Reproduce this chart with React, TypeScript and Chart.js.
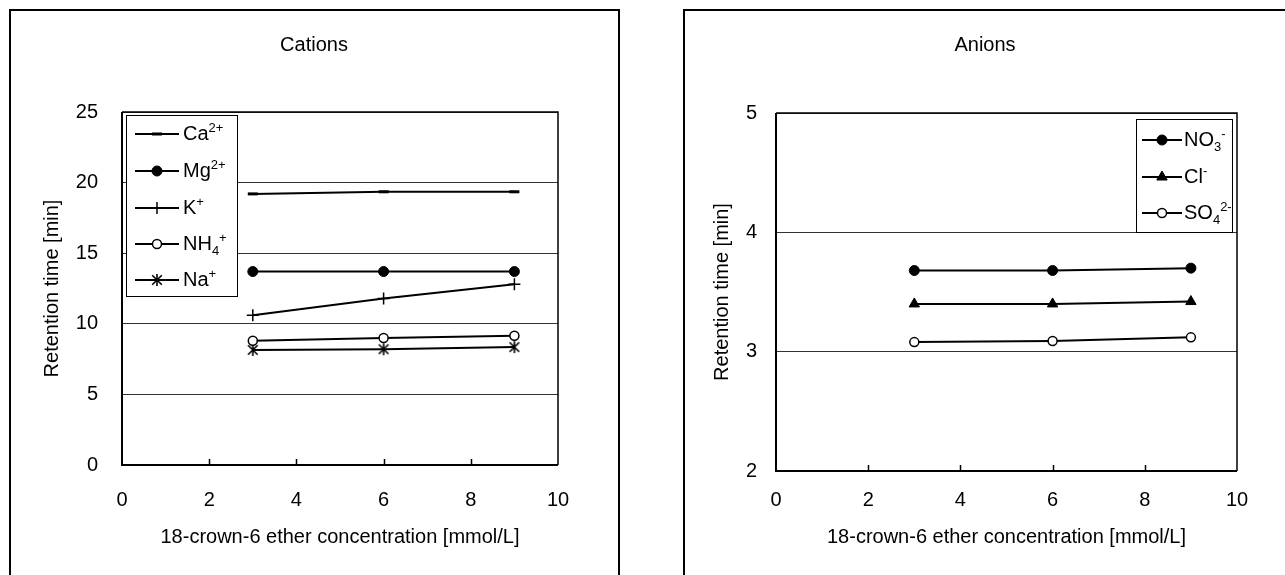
import React, { useEffect, useRef } from 'react';
import { Chart, registerables } from 'chart.js';
import { drawPoint } from 'chart.js/helpers';

Chart.register(...registerables);

const FAMILY = '"Liberation Sans", Arial, Helvetica, sans-serif';

// ---------- data ----------
const concentrations = [3, 6, 9];
const xTicks = [0, 2, 4, 6, 8, 10];

const caValues = [19.2, 19.35, 19.35];
const mgValues = [13.7, 13.7, 13.7];
const kValues = [10.6, 11.8, 12.8];
const nh4Values = [8.8, 9.0, 9.15];
const naValues = [8.15, 8.2, 8.35];

const no3Values = [3.68, 3.68, 3.7];
const clValues = [3.4, 3.4, 3.42];
const so4Values = [3.08, 3.09, 3.12];

// label runs: [text, kind] kind = '' | 'sup' | 'sub'
const cationLabels: [string, string][][] = [
  [['Ca', ''], ['2+', 'sup']],
  [['Mg', ''], ['2+', 'sup']],
  [['K', ''], ['+', 'sup']],
  [['NH', ''], ['4', 'sub'], ['+', 'sup']],
  [['Na', ''], ['+', 'sup']],
];
const anionLabels: [string, string][][] = [
  [['NO', ''], ['3', 'sub'], ['-', 'sup']],
  [['Cl', ''], ['-', 'sup']],
  [['SO', ''], ['4', 'sub'], ['2-', 'sup']],
];

const cationTitle = 'Cations';
const anionTitle = 'Anions';
const xTitle = '18-crown-6 ether concentration [mmol/L]';
const yTitle = 'Retention time [min]';

// ---------- helpers ----------
function makeAsterisk(): HTMLCanvasElement {
  const size = 14;
  const c = document.createElement('canvas');
  c.width = size;
  c.height = size;
  const g = c.getContext('2d')!;
  g.strokeStyle = '#000';
  g.lineWidth = 1.6;
  const m = size / 2;
  const r = 6;
  g.beginPath();
  g.moveTo(m, m - r);
  g.lineTo(m, m + r);
  g.moveTo(m - r * 0.8, m - r * 0.8);
  g.lineTo(m + r * 0.8, m + r * 0.8);
  g.moveTo(m + r * 0.8, m - r * 0.8);
  g.lineTo(m - r * 0.8, m + r * 0.8);
  g.stroke();
  return c;
}

function drawRuns(ctx: CanvasRenderingContext2D, runs: [string, string][], x: number, y: number) {
  let cx = x;
  ctx.textAlign = 'left';
  ctx.textBaseline = 'middle';
  for (const [t, kind] of runs) {
    const size = kind ? 13 : 20;
    ctx.font = `${size}px ${FAMILY}`;
    const dy = kind === 'sup' ? -6 : kind === 'sub' ? 7 : 0;
    ctx.fillText(t, cx, y + dy);
    cx += ctx.measureText(t).width;
  }
}

const decorPlugin = {
  id: 'decor',
  beforeDatasetsDraw(chart: any) {
    const { ctx, chartArea } = chart;
    const { left, right, top, bottom } = chartArea;
    ctx.save();
    ctx.strokeStyle = '#000';
    // inward ticks on x axis
    ctx.lineWidth = 1.5;
    const xs = chart.scales.x;
    ctx.beginPath();
    for (const t of xs.ticks) {
      if (t.value <= xs.min || t.value >= xs.max) continue;
      const px = Math.round(xs.getPixelForValue(t.value)) + 0.5;
      ctx.moveTo(px, bottom);
      ctx.lineTo(px, bottom - 6);
    }
    ctx.stroke();
    // plot border
    ctx.lineWidth = 1.5;
    ctx.beginPath();
    ctx.moveTo(left, top);
    ctx.lineTo(right, top);
    ctx.lineTo(right, bottom);
    ctx.stroke();
    ctx.lineWidth = 2;
    ctx.beginPath();
    ctx.moveTo(left, top);
    ctx.lineTo(left, bottom);
    ctx.lineTo(right, bottom);
    ctx.stroke();
    ctx.restore();
  },
  afterDraw(chart: any, _args: any, opts: any) {
    const { ctx } = chart;
    ctx.save();
    // title
    ctx.fillStyle = '#000';
    ctx.font = `20px ${FAMILY}`;
    ctx.textAlign = 'center';
    ctx.textBaseline = 'middle';
    ctx.fillText(opts.title, chart.width / 2, opts.titleY);
    // legend
    const L = opts.legend;
    ctx.fillStyle = '#fff';
    ctx.fillRect(L.x, L.y, L.w, L.h);
    ctx.strokeStyle = '#000';
    ctx.lineWidth = 1;
    ctx.strokeRect(L.x + 0.5, L.y + 0.5, L.w, L.h);
    chart.data.datasets.forEach((ds: any, i: number) => {
      const y = L.itemY[i];
      ctx.strokeStyle = '#000';
      ctx.lineWidth = 2;
      ctx.beginPath();
      ctx.moveTo(L.lineX1, y);
      ctx.lineTo(L.lineX2, y);
      ctx.stroke();
      ctx.fillStyle = ds.pointBackgroundColor;
      ctx.strokeStyle = ds.pointBorderColor;
      ctx.lineWidth = ds.pointBorderWidth;
      drawPoint(ctx, { pointStyle: ds.pointStyle, radius: ds.pointRadius, rotation: 0, borderWidth: ds.pointBorderWidth } as any, L.markerX, y);
      ctx.fillStyle = '#000';
      drawRuns(ctx, opts.labels[i], L.textX, y);
    });
    ctx.restore();
  },
};

function series(values: number[], style: any) {
  return {
    data: concentrations.map((x, i) => ({ x, y: values[i] })),
    borderColor: '#000',
    borderWidth: 2,
    pointBorderColor: '#000',
    tension: 0,
    fill: false,
    ...style,
  };
}

function buildConfig(p: any): any {
  return {
    type: 'line',
    data: { datasets: p.datasets },
    plugins: [decorPlugin],
    options: {
      animation: false,
      responsive: false,
      devicePixelRatio: 1,
      layout: { padding: { left: 0, top: p.padTop, right: p.padRight, bottom: 0 } },
      plugins: {
        legend: { display: false },
        tooltip: { enabled: false },
        title: { display: false },
        decor: { title: p.title, titleY: p.titleY, legend: p.legend, labels: p.labels },
      },
      scales: {
        x: {
          type: 'linear',
          min: 0,
          max: 10,
          afterBuildTicks: (s: any) => {
            s.ticks = xTicks.map((v) => ({ value: v }));
          },
          ticks: { padding: p.xTickPad, color: '#000', font: { size: 20, family: FAMILY } },
          grid: { drawOnChartArea: false, drawTicks: false },
          border: { display: false },
          title: {
            display: true,
            text: xTitle,
            color: '#000',
            font: { size: 20, family: FAMILY },
            padding: { top: 0, bottom: p.xTitlePad },
          },
          afterFit: (s: any) => {
            s.height = p.xHeight;
          },
        },
        y: {
          min: p.yMin,
          max: p.yMax,
          afterBuildTicks: (s: any) => {
            s.ticks = p.yTicks.map((v: number) => ({ value: v }));
          },
          ticks: { padding: p.yTickPad, color: '#000', font: { size: 20, family: FAMILY } },
          grid: { color: '#333', lineWidth: 1, drawTicks: false },
          border: { display: false },
          title: {
            display: true,
            text: yTitle,
            color: '#000',
            font: { size: 20, family: FAMILY },
            padding: { top: p.yTitlePad, bottom: 0 },
          },
          afterFit: (s: any) => {
            s.width = p.yWidth;
          },
        },
      },
    },
  };
}

const cationYTicks = [0, 5, 10, 15, 20, 25];
const anionYTicks = [2, 3, 4, 5];

function ChartPanel({ left, top, width, height, make }: any) {
  const ref = useRef<HTMLCanvasElement>(null);
  useEffect(() => {
    const chart = new Chart(ref.current!, make());
    return () => chart.destroy();
  }, []);
  return (
    <canvas
      ref={ref}
      width={width}
      height={height}
      style={{ position: 'absolute', left, top, width, height, display: 'block' }}
    />
  );
}

function makeCations() {
  const star = makeAsterisk();
  return buildConfig({
    datasets: [
      series(caValues, { pointStyle: 'line', pointRadius: 5, pointBorderWidth: 3, pointBackgroundColor: '#000' }),
      series(mgValues, { pointStyle: 'circle', pointRadius: 5, pointBorderWidth: 1, pointBackgroundColor: '#000' }),
      series(kValues, { pointStyle: 'cross', pointRadius: 6, pointBorderWidth: 1.5, pointBackgroundColor: '#000' }),
      series(nh4Values, { pointStyle: 'circle', pointRadius: 4.5, pointBorderWidth: 1.5, pointBackgroundColor: '#fff' }),
      series(naValues, { pointStyle: star, pointRadius: 6, pointBorderWidth: 1.5, pointBackgroundColor: '#000' }),
    ],
    labels: cationLabels,
    title: cationTitle,
    titleY: 34,
    padTop: 101,
    padRight: 59,
    xHeight: 110,
    xTickPad: 23,
    xTitlePad: 26,
    yWidth: 111,
    yTickPad: 24,
    yTitlePad: 29,
    yMin: 0,
    yMax: 25,
    yTicks: cationYTicks,
    legend: {
      x: 115, y: 104, w: 111, h: 181,
      itemY: [123, 160, 197, 233, 269],
      lineX1: 124, lineX2: 168, markerX: 146, textX: 172,
    },
  });
}

function makeAnions() {
  return buildConfig({
    datasets: [
      series(no3Values, { pointStyle: 'circle', pointRadius: 5, pointBorderWidth: 1, pointBackgroundColor: '#000' }),
      series(clValues, { pointStyle: 'triangle', pointRadius: 6, pointBorderWidth: 1, pointBackgroundColor: '#000' }),
      series(so4Values, { pointStyle: 'circle', pointRadius: 4.5, pointBorderWidth: 1.5, pointBackgroundColor: '#fff' }),
    ],
    labels: anionLabels,
    title: anionTitle,
    titleY: 34,
    padTop: 102,
    padRight: 48,
    xHeight: 104,
    xTickPad: 17,
    xTitlePad: 26,
    yWidth: 91,
    yTickPad: 19,
    yTitlePad: 25,
    yMin: 2,
    yMax: 5,
    yTicks: anionYTicks,
    legend: {
      x: 451, y: 108, w: 96, h: 113,
      itemY: [129, 166, 202],
      lineX1: 457, lineX2: 497, markerX: 477, textX: 499,
    },
  });
}

export default function App() {
  return (
    <div
      style={{
        position: 'fixed',
        left: 0,
        top: 0,
        width: 1285,
        height: 575,
        overflow: 'hidden',
        background: '#fff',
      }}
    >
      <div
        style={{
          position: 'absolute',
          left: 9,
          top: 9,
          width: 611,
          height: 640,
          border: '2px solid #000',
          boxSizing: 'border-box',
        }}
      />
      <div
        style={{
          position: 'absolute',
          left: 683,
          top: 9,
          width: 700,
          height: 640,
          border: '2px solid #000',
          boxSizing: 'border-box',
        }}
      />
      <ChartPanel left={11} top={11} width={606} height={564} make={makeCations} />
      <ChartPanel left={685} top={11} width={600} height={564} make={makeAnions} />
    </div>
  );
}
